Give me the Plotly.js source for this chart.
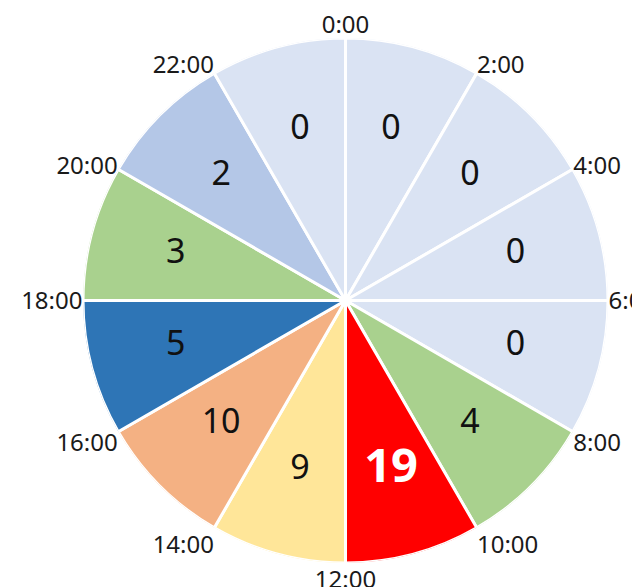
<!DOCTYPE html>
<html>
<head>
<meta charset="utf-8">
<script src="https://cdn.plot.ly/plotly-3.0.1.min.js"></script>
<style>html,body{margin:0;padding:0;background:#fff;overflow:hidden}#chart{width:632px;height:587px}</style>
</head>
<body>
<div id="chart"></div>
<script>
// Time slots (2-hour bins, clockwise from 0:00)
var slotStart = [0, 30, 60, 90, 120, 150, 180, 210, 240, 270, 300, 330]; // angular start of each bin (degrees, 2h = 30deg)
var counts = [0, 0, 0, 0, 4, 19, 9, 10, 5, 3, 2, 0];
var sliceColors = ['#dae3f3', '#dae3f3', '#dae3f3', '#dae3f3', '#a9d18e', '#ff0000',
                   '#ffe699', '#f4b183', '#2e75b6', '#a9d18e', '#b4c7e7', '#dae3f3'];
var tickLabels = ['0:00', '2:00', '4:00', '6:00', '8:00', '10:00', '12:00', '14:00', '16:00', '18:00', '20:00', '22:00'];

var binWidth = 30;
var thetaCenters = slotStart.map(function (s) { return s + binWidth / 2; });
var maxCount = Math.max.apply(null, counts);

var wedges = {
  type: 'barpolar',
  r: counts.map(function () { return 1; }),
  theta: thetaCenters,
  width: counts.map(function () { return binWidth; }),
  marker: { color: sliceColors, line: { color: '#ffffff', width: 3 } },
  hoverinfo: 'skip',
  showlegend: false
};

var labels = {
  type: 'scatterpolar',
  mode: 'text',
  r: counts.map(function () { return 0.67; }),
  theta: thetaCenters,
  text: counts.map(String),
  textposition: 'middle center',
  textfont: {
    family: 'Noto Sans, DejaVu Sans, sans-serif',
    size: counts.map(function (c) { return c === maxCount ? 47 : 34; }),
    color: counts.map(function (c) { return c === maxCount ? '#ffffff' : '#111111'; }),
    weight: counts.map(function (c) { return c === maxCount ? 'bold' : 'normal'; })
  },
  hoverinfo: 'skip',
  showlegend: false
};

var layout = {
  width: 632, height: 587,
  margin: { l: 0, r: 0, t: 0, b: 0 },
  paper_bgcolor: '#ffffff',
  showlegend: false,
  polar: {
    domain: { x: [83 / 632, 608 / 632], y: [24 / 587, 549 / 587] },
    bgcolor: 'rgba(0,0,0,0)',
    bargap: 0,
    radialaxis: { range: [0, 1], visible: false, showgrid: false },
    angularaxis: {
      direction: 'clockwise',
      rotation: 90,
      tickmode: 'array',
      tickvals: slotStart,
      ticktext: tickLabels,
      ticks: '',
      showline: false,
      showgrid: false,
      tickfont: { family: 'Noto Sans, DejaVu Sans, sans-serif', size: 24, color: '#1a1a1a' }
    }
  }
};

Plotly.newPlot('chart', [wedges, labels], layout, { displayModeBar: false, staticPlot: true });
</script>
</body>
</html>
